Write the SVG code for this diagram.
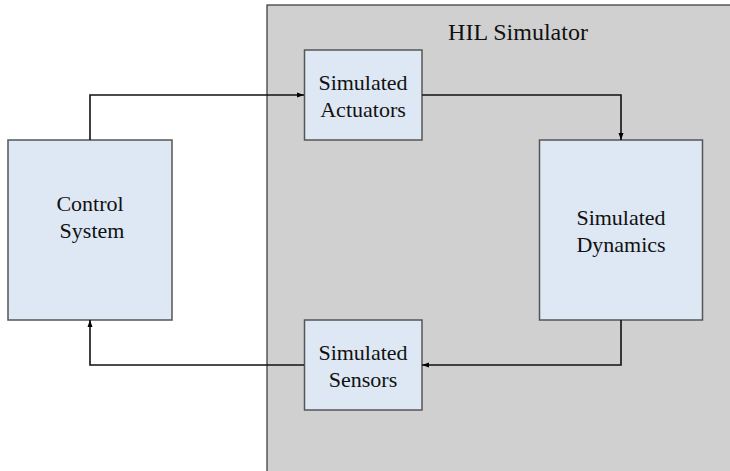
<svg xmlns="http://www.w3.org/2000/svg" width="730" height="471" viewBox="0 0 730 471">
  <defs>
    <marker id="arrow" markerWidth="8" markerHeight="8" refX="7" refY="4" orient="auto" markerUnits="userSpaceOnUse">
      <path d="M0,1.5 L7,4 L0,6.5 Z" fill="#000"/>
    </marker>
  </defs>
  <style>
    .box { fill: #dde8f4; stroke: #555; stroke-width: 1.5; }
    .wire { fill: none; stroke: #111; stroke-width: 1.6; marker-end: url(#arrow); }
  </style>
  <rect width="730" height="471" fill="#fff"/>

  <g font-family="Liberation Serif, Times New Roman, serif" fill="#111" text-anchor="middle">
    <g id="hil-simulator">
      <rect x="267" y="5" width="480" height="480" fill="#d0d0d0" stroke="#333" stroke-width="1.2"/>
      <text x="518" y="40" font-size="24">HIL Simulator</text>
    </g>

    <g id="control-system" font-size="22">
      <rect class="box" x="8" y="140" width="164" height="180"/>
      <text x="90" y="211">Control</text>
      <text x="92" y="238">System</text>
    </g>

    <g id="simulated-actuators" font-size="22">
      <rect class="box" x="304.5" y="50" width="117.5" height="90"/>
      <text x="363" y="90">Simulated</text>
      <text x="363" y="117">Actuators</text>
    </g>

    <g id="simulated-dynamics" font-size="22">
      <rect class="box" x="539.5" y="140" width="163" height="180"/>
      <text x="621" y="225">Simulated</text>
      <text x="621" y="252">Dynamics</text>
    </g>

    <g id="simulated-sensors" font-size="22">
      <rect class="box" x="304.5" y="320" width="117.5" height="90"/>
      <text x="363" y="360">Simulated</text>
      <text x="363" y="387">Sensors</text>
    </g>
  </g>

  <g id="connectors">
    <path class="wire" d="M90,140 V95 H304"/>
    <path class="wire" d="M422,95 H621 V140"/>
    <path class="wire" d="M621,320 V365 H422"/>
    <path class="wire" d="M304,365 H90 V320"/>
  </g>
</svg>
